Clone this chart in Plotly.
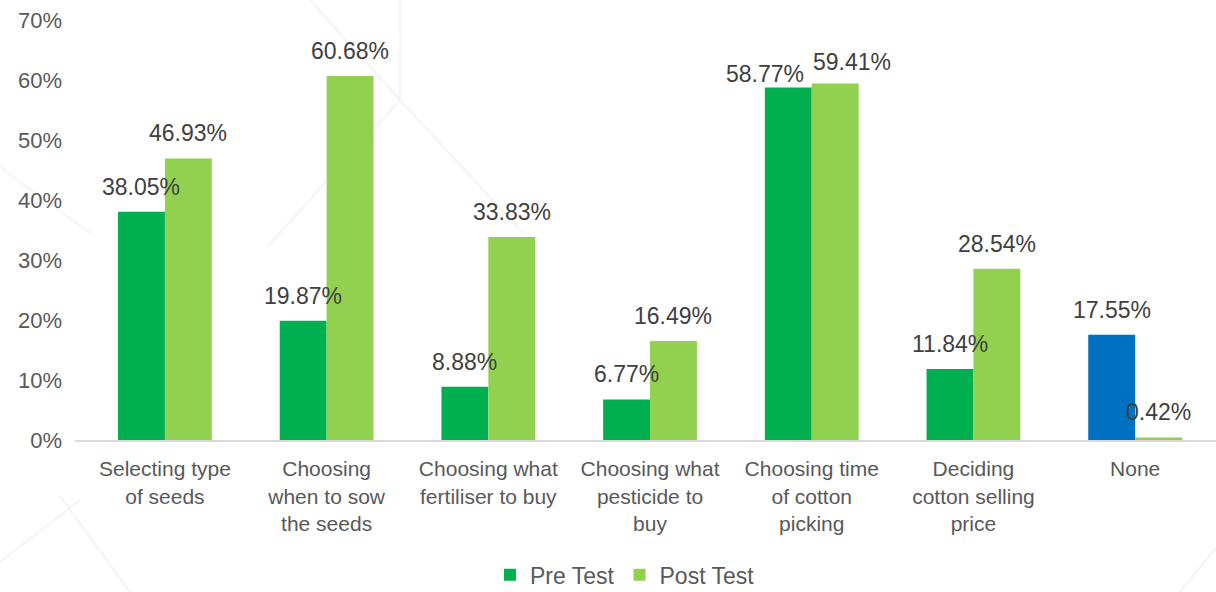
import plotly.graph_objects as go

categories = [
    "Selecting type<br>of seeds",
    "Choosing<br>when to sow<br>the seeds",
    "Choosing what<br>fertiliser to buy",
    "Choosing what<br>pesticide to<br>buy",
    "Choosing time<br>of cotton<br>picking",
    "Deciding<br>cotton selling<br>price",
    "None",
]
pre_test = [38.05, 19.87, 8.88, 6.77, 58.77, 11.84, 17.55]
post_test = [46.93, 60.68, 33.83, 16.49, 59.41, 28.54, 0.42]
y_ticks = [0, 10, 20, 30, 40, 50, 60, 70]

DARK_GREEN = "#00B050"
LIGHT_GREEN = "#92D050"
BLUE = "#0070C0"
FONT = "Liberation Sans, Arial, sans-serif"

BARGAP = 0.42
pre_colors = [DARK_GREEN] * (len(categories) - 1) + [BLUE]

x_idx = list(range(len(categories)))
fig = go.Figure()
fig.add_trace(go.Bar(
    name="Pre Test", x=x_idx, y=[v / 100 for v in pre_test],
    marker=dict(color=pre_colors, line=dict(width=0)),
))
fig.add_trace(go.Bar(
    name="Post Test", x=x_idx, y=[v / 100 for v in post_test],
    marker=dict(color=LIGHT_GREEN, line=dict(width=0)),
))

# value labels above each bar; the two near-equal bars get their labels
# pushed apart so they do not collide
half = (1 - BARGAP) / 4
nudge = {(4, 0): (-23, 13), (4, 1): (17, 22)}  # (xshift px, height above bar px)
for i, (a, b) in enumerate(zip(pre_test, post_test)):
    for s, (val, off) in enumerate(((a, -half), (b, half))):
        dx, dy = nudge.get((i, s), (0, 25))
        fig.add_annotation(
            x=i + off, y=val / 100, text=f"{val:.2f}%",
            showarrow=False, yanchor="middle", xshift=dx, yshift=dy,
            font=dict(family=FONT, size=23, color="#404040"),
        )

# faint decorative background lines
bg_lines = [
    (310, 0, 400, 100), (400, 0, 400, 100), (400, 100, 267, 247),
    (400, 100, 523, 233), (0, 167, 90, 233), (0, 562, 80, 500),
    (60, 496, 130, 592), (1216, 548, 1180, 592),
]
for x0, y0, x1, y1 in bg_lines:
    fig.add_shape(
        type="line", xref="paper", yref="paper", layer="below",
        x0=(x0 - 75) / 1141, x1=(x1 - 75) / 1141,
        y0=(440 - y0) / 420, y1=(440 - y1) / 420,
        line=dict(color="#F3F5F3", width=2),
    )

fig.update_layout(
    width=1216, height=592,
    margin=dict(l=75, r=0, t=20, b=152),
    paper_bgcolor="white", plot_bgcolor="rgba(0,0,0,0)",
    barmode="group", bargap=BARGAP, bargroupgap=0,
    font=dict(family=FONT, size=21, color="#595959"),
    showlegend=True,
    legend=dict(
        orientation="h", xref="paper", x=0.482, xanchor="center",
        yref="container", y=0.029, yanchor="middle",
        font=dict(family=FONT, size=23, color="#595959"),
        itemwidth=30, tracegroupgap=0,
    ),
    xaxis=dict(
        tickmode="array", tickvals=x_idx, ticktext=categories,
        range=[-0.556, 6.5], showgrid=False, zeroline=False,
        showline=True, linecolor="#D9D9D9", linewidth=2,
        ticks="", ticklabelstandoff=9,
        tickfont=dict(family=FONT, size=21, color="#595959"),
    ),
    yaxis=dict(
        range=[0, 0.7], tickvals=[t / 100 for t in y_ticks],
        ticktext=[f"{t}%" for t in y_ticks],
        showgrid=False, zeroline=False, showline=False,
        ticks="", ticklabelstandoff=12,
        tickfont=dict(family=FONT, size=22, color="#595959"),
    ),
)

fig.write_html("out.html")
